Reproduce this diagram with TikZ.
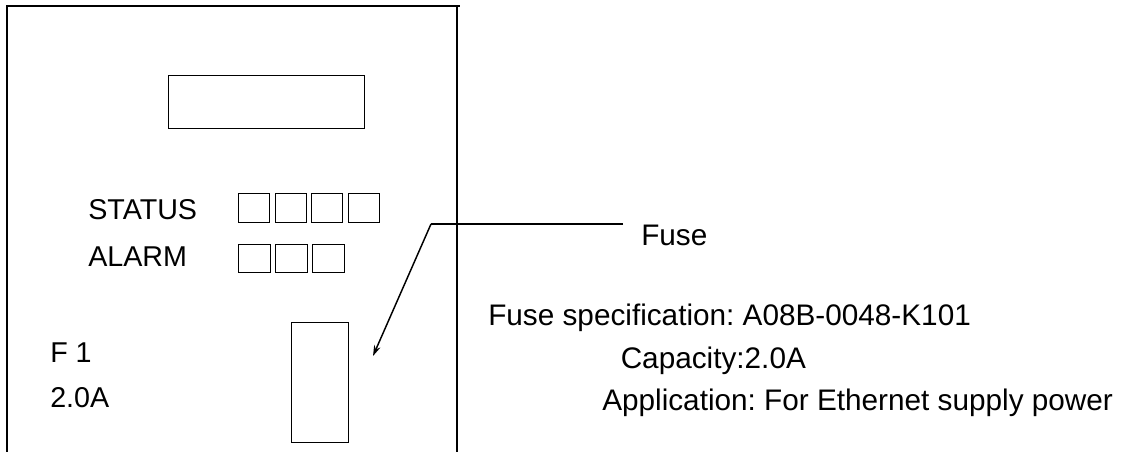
\documentclass[tikz,border=0pt]{standalone}
\usepackage{fontspec}
\setmainfont{Liberation Sans}
\usetikzlibrary{arrows.meta}
\frenchspacing
\begin{document}
\begin{tikzpicture}[x=0.75pt,y=-0.75pt,
  frame/.style={line width=1.1pt},
  panel/.style={draw, line width=0.9pt, inner sep=0pt, anchor=north west},
  lamp/.style={draw, line width=0.75pt, inner sep=0pt, anchor=north west},
  lbl/.style={inner sep=0pt, anchor=base west, font=\fontsize{21.5}{25}\selectfont},
  note/.style={inner sep=0pt, anchor=base west, font=\fontsize{22.3}{26}\selectfont},
  leader/.style={line width=1.1pt}]
\useasboundingbox (0,0) rectangle (1123,452);
% housing
\draw[frame] (7,452) -- (7,6) -- (460,6);
\draw[frame] (457,6) -- (457,452);
% display window
\node[panel, minimum width=196*0.75pt, minimum height=53*0.75pt] (display) at (168,75) {};
% status lamps
\foreach \x [count=\i] in {238,274.5,311,347.5}
  \node[lamp, minimum width=31*0.75pt, minimum height=29*0.75pt] (s\i) at (\x,193) {};
% alarm lamps
\foreach \x [count=\i] in {238,275,312}
  \node[lamp, minimum width=31.5*0.75pt, minimum height=28*0.75pt] (a\i) at (\x,244) {};
% fuse
\node[lamp, minimum width=57*0.75pt, minimum height=120*0.75pt] (fuse) at (291,322) {};
% labels
\node[lbl] (status) at (88,219.5) {STATUS};
\node[lbl] (alarm) at (88,267) {ALARM};
\node[lbl] (f1) at (50,362) {F 1};
\node[lbl] (amp) at (50,407) {2.0A};
% leader
\coordinate (lineend) at (623,224);
\coordinate (bend) at (431,224);
\coordinate (tip) at (373,356);
\draw[leader] (lineend) -- (bend);
\draw[leader, -{Stealth[length=8pt, width=5pt]}] (bend) -- (tip);
% notes
\node[note] (fuselbl) at (641,245) {Fuse};
\node[note] (spec) at (488,325) {Fuse specification: A08B-0048-K101};
\node[note] (cap) at (620.5,368) {Capacity:2.0A};
\node[note] (app) at (602,410) {Application: For Ethernet supply power};
\end{tikzpicture}
\end{document}
